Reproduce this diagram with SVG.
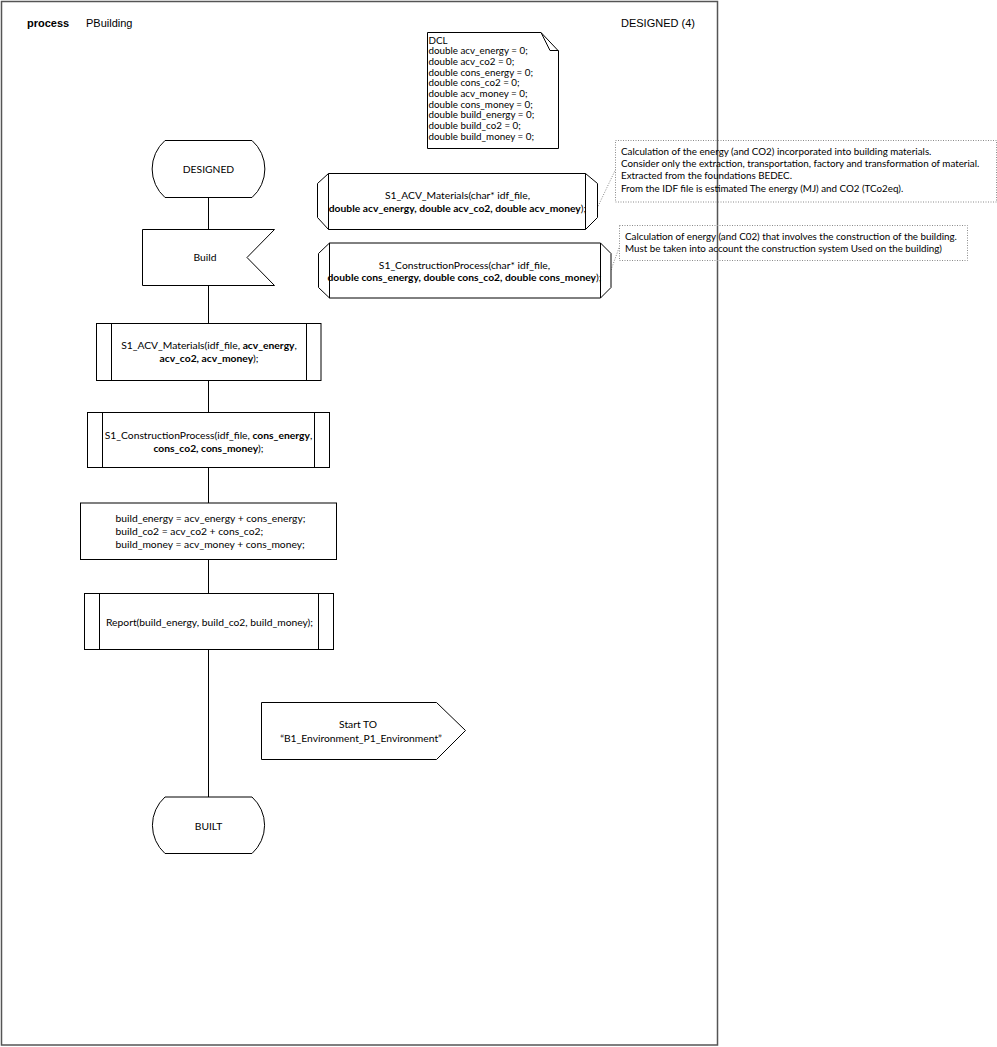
<svg xmlns="http://www.w3.org/2000/svg" width="997" height="1047" viewBox="0 0 997 1047">
<style>
.s{fill:#fff;stroke:#000;stroke-width:1}
.l{fill:none;stroke:#000;stroke-width:1}
.t{font-family:Lato,"Liberation Sans",Arial,sans-serif;font-size:10.3px;fill:#000}
.n{font-family:Lato,"Liberation Sans",Arial,sans-serif;font-size:9.8px;fill:#000}
.h{font-family:"Liberation Sans",Arial,sans-serif;font-size:11px;fill:#000}
.b{font-weight:bold}
.note{fill:none;stroke:#8a8a8a;stroke-width:1;stroke-dasharray:1 1.5}
.m{text-anchor:middle}
</style>
<rect x="1.5" y="1.5" width="716" height="1043.5" fill="#fff" stroke="#555" stroke-width="1.5"/>
<g id="header">
<text class="h b" x="27" y="27">process</text>
<text class="h" x="86" y="27">PBuilding</text>
<text class="h" x="621" y="27">DESIGNED (4)</text>
</g>
<g id="connectors">
<line class="l" x1="208.5" y1="197.5" x2="208.5" y2="229.5"/>
<line class="l" x1="208.5" y1="285.5" x2="208.5" y2="323.5"/>
<line class="l" x1="208.5" y1="380.5" x2="208.5" y2="412.5"/>
<line class="l" x1="208.5" y1="467.5" x2="208.5" y2="503"/>
<line class="l" x1="208.5" y1="559.5" x2="208.5" y2="593.5"/>
<line class="l" x1="208.5" y1="649.5" x2="208.5" y2="797"/>
<line class="note" x1="597" y1="208.5" x2="615.5" y2="169.5"/>
<line class="note" x1="611" y1="270" x2="619.5" y2="246.5"/>
</g>
<g id="dcl">
<path class="s" d="M427.5,32.5 H541 L558.5,51 V148.5 H427.5 Z"/>
<path class="l" d="M541,32.5 L550,50.5 H558.5"/>
<text class="n" x="428.5" y="43.5">DCL</text>
<text class="n" x="428.5" y="54.2">double acv_energy = 0;</text>
<text class="n" x="428.5" y="64.9">double acv_co2 = 0;</text>
<text class="n" x="428.5" y="75.6">double cons_energy = 0;</text>
<text class="n" x="428.5" y="86.3">double cons_co2 = 0;</text>
<text class="n" x="428.5" y="97">double acv_money = 0;</text>
<text class="n" x="428.5" y="107.7">double cons_money = 0;</text>
<text class="n" x="428.5" y="118.4">double build_energy = 0;</text>
<text class="n" x="428.5" y="129.1">double build_co2 = 0;</text>
<text class="n" x="428.5" y="139.8">double build_money = 0;</text>
</g>
<g id="designed">
<path class="s" d="M165,140.5 H252 A38,38 0 0 1 252,197.5 H165 A38,38 0 0 1 165,140.5 Z"/>
<text class="t m" x="208.5" y="172.5">DESIGNED</text>
</g>
<g id="build">
<path class="s" d="M142.5,229.5 H274.5 L247,257.5 L274.5,285.5 H142.5 Z"/>
<text class="t m" x="205" y="261">Build</text>
</g>
<g id="acv_call">
<rect class="s" x="96.5" y="323.5" width="224.5" height="57"/>
<line class="l" x1="111.5" y1="323.5" x2="111.5" y2="380.5"/>
<line class="l" x1="306.5" y1="323.5" x2="306.5" y2="380.5"/>
<text class="t m" x="209" y="348.5">S1_ACV_Materials(idf_file, <tspan class="b">acv_energy</tspan>,</text>
<text class="t m" x="209" y="361.5"><tspan class="b">acv_co2, acv_money</tspan>);</text>
</g>
<g id="cons_call">
<rect class="s" x="87.5" y="412.5" width="242" height="55"/>
<line class="l" x1="102.5" y1="412.5" x2="102.5" y2="467.5"/>
<line class="l" x1="314.5" y1="412.5" x2="314.5" y2="467.5"/>
<text class="t m" x="208.5" y="438.5">S1_ConstructionProcess(idf_file, <tspan class="b">cons_energy</tspan>,</text>
<text class="t m" x="208.5" y="451.5"><tspan class="b">cons_co2, cons_money</tspan>);</text>
</g>
<g id="task">
<rect class="s" x="80.5" y="503" width="256" height="56.5"/>
<text class="t" x="115.5" y="521.5">build_energy = acv_energy + cons_energy;</text>
<text class="t" x="115.5" y="534.5">build_co2 = acv_co2 + cons_co2;</text>
<text class="t" x="115.5" y="547.5">build_money = acv_money + cons_money;</text>
</g>
<g id="report">
<rect class="s" x="84.5" y="593.5" width="249" height="56"/>
<line class="l" x1="99.5" y1="593.5" x2="99.5" y2="649.5"/>
<line class="l" x1="318.5" y1="593.5" x2="318.5" y2="649.5"/>
<text class="t" x="106" y="625.5">Report(build_energy, build_co2, build_money);</text>
</g>
<g id="start_to">
<path class="s" d="M261.5,702.5 H436.5 L465.5,730.5 L436.5,759.5 H261.5 Z"/>
<text class="t m" x="358" y="728">Start TO</text>
<text class="t m" x="361" y="741.5">“B1_Environment_P1_Environment”</text>
</g>
<g id="built">
<path class="s" d="M165,797 H252 A38,38 0 0 1 252,853.5 H165 A38,38 0 0 1 165,797 Z"/>
<text class="t m" x="208.5" y="829.5">BUILT</text>
</g>
<g id="acv_decl">
<path class="s" d="M328.5,173.5 H585.5 L597.5,183.5 V217.5 L585.5,229.5 H328.5 L317.5,217.5 V183.5 Z"/>
<line class="l" x1="328.5" y1="173.5" x2="328.5" y2="229.5"/>
<line class="l" x1="585.5" y1="173.5" x2="585.5" y2="229.5"/>
<text class="t m" x="457.5" y="198.5">S1_ACV_Materials(char* idf_file,</text>
<text class="t m b" x="457.5" y="211.5">double acv_energy, double acv_co2, double acv_money<tspan font-weight="normal">);</tspan></text>
</g>
<g id="cons_decl">
<path class="s" d="M329.5,243 H600.5 L611,253.5 V287.5 L600.5,298 H329.5 L318.5,287.5 V253.5 Z"/>
<line class="l" x1="329.5" y1="243" x2="329.5" y2="298"/>
<line class="l" x1="600.5" y1="243" x2="600.5" y2="298"/>
<text class="t m" x="464.5" y="268.5">S1_ConstructionProcess(char* idf_file,</text>
<text class="t m b" x="464.5" y="281">double cons_energy, double cons_co2, double cons_money<tspan font-weight="normal">);</tspan></text>
</g>
<g id="note1">
<rect class="note" x="615.5" y="140.5" width="381" height="61.5"/>
<text class="n" x="621" y="155">Calculation of the energy (and CO2) incorporated into building materials.</text>
<text class="n" x="621" y="167">Consider only the extraction, transportation, factory and transformation of material.</text>
<text class="n" x="621" y="179">Extracted from the foundations BEDEC.</text>
<text class="n" x="621" y="191.5">From the IDF file is estimated The energy (MJ) and CO2 (TCo2eq).</text>
</g>
<g id="note2">
<rect class="note" x="619.5" y="225.5" width="348" height="35"/>
<text class="n" x="625" y="239.5">Calculation of energy (and C02) that involves the construction of the building.</text>
<text class="n" x="625" y="251.5">Must be taken into account the construction system Used on the building)</text>
</g>
</svg>
